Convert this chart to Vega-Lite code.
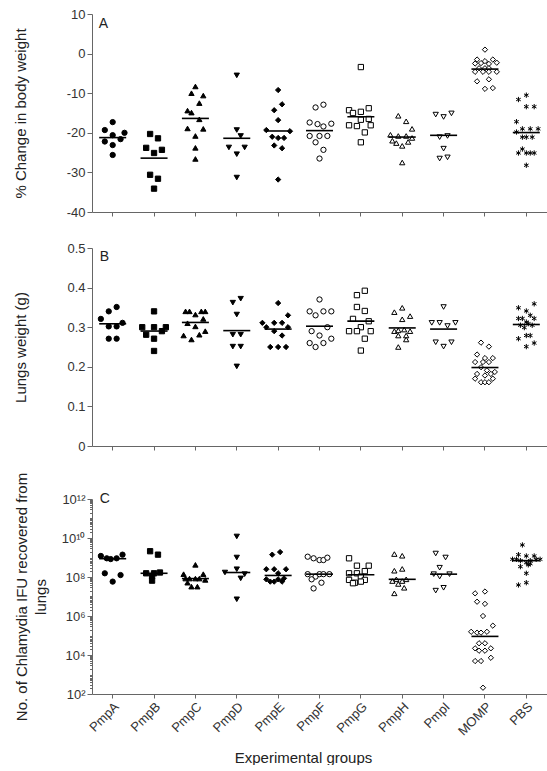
{
  "$schema": "https://vega.github.io/schema/vega-lite/v6.json",
  "padding": {"left": 12, "top": 8, "right": 0, "bottom": 0},
  "config": {
    "font": "Liberation Sans",
    "view": {"stroke": null},
    "axis": {"grid": false, "domainColor": "#666", "tickColor": "#666", "labelColor": "#333", "labelFontSize": 13, "titleFontSize": 15, "titleFontWeight": "normal", "titleColor": "#222", "labelOverlap": false, "labelFlush": false}
  },
  "datasets": {
    "dA": [
      {"g":"PmpA","v":-17.3,"j":0},{"g":"PmpA","v":-19.3,"j":-2},{"g":"PmpA","v":-20.0,"j":3},{"g":"PmpA","v":-20.6,"j":0},{"g":"PmpA","v":-21.6,"j":2},{"g":"PmpA","v":-22.2,"j":-2},{"g":"PmpA","v":-23.1,"j":0},{"g":"PmpA","v":-25.6,"j":0},
      {"g":"PmpB","v":-20.3,"j":-1},{"g":"PmpB","v":-21.4,"j":1},{"g":"PmpB","v":-23.8,"j":-2},{"g":"PmpB","v":-24.3,"j":2},{"g":"PmpB","v":-25.1,"j":0},{"g":"PmpB","v":-30.6,"j":-1},{"g":"PmpB","v":-31.6,"j":1},{"g":"PmpB","v":-34.1,"j":0},
      {"g":"PmpC","v":-8.3,"j":0},{"g":"PmpC","v":-10.0,"j":-1},{"g":"PmpC","v":-10.6,"j":2},{"g":"PmpC","v":-12.5,"j":1},{"g":"PmpC","v":-14.4,"j":-2},{"g":"PmpC","v":-14.9,"j":-1},{"g":"PmpC","v":-16.6,"j":1},{"g":"PmpC","v":-18.9,"j":-2},{"g":"PmpC","v":-19.0,"j":2},{"g":"PmpC","v":-20.8,"j":0},{"g":"PmpC","v":-23.8,"j":0},{"g":"PmpC","v":-26.6,"j":0},
      {"g":"PmpD","v":-5.5,"j":0},{"g":"PmpD","v":-19.3,"j":0},{"g":"PmpD","v":-20.8,"j":1},{"g":"PmpD","v":-23.7,"j":-2},{"g":"PmpD","v":-23.7,"j":2},{"g":"PmpD","v":-25.4,"j":0},{"g":"PmpD","v":-31.3,"j":0},
      {"g":"PmpE","v":-9.2,"j":0},{"g":"PmpE","v":-12.8,"j":1},{"g":"PmpE","v":-14.3,"j":-1},{"g":"PmpE","v":-16.8,"j":0},{"g":"PmpE","v":-19.3,"j":-3},{"g":"PmpE","v":-19.6,"j":3},{"g":"PmpE","v":-21.0,"j":-1.5},{"g":"PmpE","v":-21.3,"j":0},{"g":"PmpE","v":-21.3,"j":1.5},{"g":"PmpE","v":-23.2,"j":-1},{"g":"PmpE","v":-23.9,"j":1},{"g":"PmpE","v":-31.8,"j":0},
      {"g":"PmpF","v":-13.6,"j":-1},{"g":"PmpF","v":-12.9,"j":1},{"g":"PmpF","v":-17.4,"j":-2.5},{"g":"PmpF","v":-17.8,"j":-0.5},{"g":"PmpF","v":-18.4,"j":1},{"g":"PmpF","v":-17.7,"j":3},{"g":"PmpF","v":-20.8,"j":-2.5},{"g":"PmpF","v":-20.8,"j":0},{"g":"PmpF","v":-20.8,"j":2},{"g":"PmpF","v":-22.4,"j":-1},{"g":"PmpF","v":-24.3,"j":1},{"g":"PmpF","v":-26.5,"j":0},
      {"g":"PmpG","v":-3.4,"j":0},{"g":"PmpG","v":-13.8,"j":2},{"g":"PmpG","v":-14.3,"j":-3},{"g":"PmpG","v":-14.7,"j":0},{"g":"PmpG","v":-15.0,"j":-2},{"g":"PmpG","v":-16.5,"j":2},{"g":"PmpG","v":-16.7,"j":0},{"g":"PmpG","v":-18.1,"j":-3},{"g":"PmpG","v":-18.3,"j":-1},{"g":"PmpG","v":-18.1,"j":2.5},{"g":"PmpG","v":-19.9,"j":1},{"g":"PmpG","v":-22.4,"j":0},
      {"g":"PmpH","v":-15.7,"j":-1},{"g":"PmpH","v":-17.1,"j":1},{"g":"PmpH","v":-19.0,"j":2.5},{"g":"PmpH","v":-20.5,"j":-3},{"g":"PmpH","v":-20.8,"j":-1},{"g":"PmpH","v":-20.8,"j":1},{"g":"PmpH","v":-21.3,"j":2.5},{"g":"PmpH","v":-22.0,"j":-2.5},{"g":"PmpH","v":-22.3,"j":1.5},{"g":"PmpH","v":-22.6,"j":-1.5},{"g":"PmpH","v":-23.3,"j":0},{"g":"PmpH","v":-27.5,"j":0},
      {"g":"PmpI","v":-15.1,"j":2},{"g":"PmpI","v":-15.4,"j":-2},{"g":"PmpI","v":-16.0,"j":0},{"g":"PmpI","v":-20.8,"j":1},{"g":"PmpI","v":-21.1,"j":-1},{"g":"PmpI","v":-24.0,"j":0},{"g":"PmpI","v":-26.2,"j":1},{"g":"PmpI","v":-26.5,"j":-1},
      {"g":"MOMP","v":1.0,"j":0},{"g":"MOMP","v":-1.5,"j":-2},{"g":"MOMP","v":-1.5,"j":2},{"g":"MOMP","v":-1.9,"j":0},{"g":"MOMP","v":-2.5,"j":-2.5},{"g":"MOMP","v":-2.4,"j":-1},{"g":"MOMP","v":-2.6,"j":1},{"g":"MOMP","v":-2.3,"j":3},{"g":"MOMP","v":-3.7,"j":-1.5},{"g":"MOMP","v":-3.7,"j":0},{"g":"MOMP","v":-3.7,"j":1},{"g":"MOMP","v":-4.6,"j":-2.5},{"g":"MOMP","v":-4.6,"j":-0.5},{"g":"MOMP","v":-4.6,"j":1},{"g":"MOMP","v":-4.6,"j":3},{"g":"MOMP","v":-7.0,"j":-2},{"g":"MOMP","v":-6.5,"j":1},{"g":"MOMP","v":-8.9,"j":0},{"g":"MOMP","v":-8.7,"j":2},
      {"g":"PBS","v":-10.5,"j":0},{"g":"PBS","v":-11.6,"j":-2},{"g":"PBS","v":-13.4,"j":0},{"g":"PBS","v":-13.4,"j":2},{"g":"PBS","v":-17.2,"j":-2.5},{"g":"PBS","v":-19.0,"j":-1},{"g":"PBS","v":-19.0,"j":1},{"g":"PBS","v":-19.0,"j":3},{"g":"PBS","v":-19.8,"j":-2.5},{"g":"PBS","v":-21.1,"j":-1},{"g":"PBS","v":-21.1,"j":0},{"g":"PBS","v":-21.1,"j":1.5},{"g":"PBS","v":-24.1,"j":-1},{"g":"PBS","v":-25.1,"j":-2},{"g":"PBS","v":-25.1,"j":0},{"g":"PBS","v":-25.1,"j":1},{"g":"PBS","v":-25.1,"j":2},{"g":"PBS","v":-28.2,"j":0}
    ],
    "dB": [
      {"g":"PmpA","v":0.351,"j":1},{"g":"PmpA","v":0.340,"j":-1},{"g":"PmpA","v":0.321,"j":-3},{"g":"PmpA","v":0.311,"j":2.5},{"g":"PmpA","v":0.302,"j":-1},{"g":"PmpA","v":0.302,"j":1},{"g":"PmpA","v":0.271,"j":-1},{"g":"PmpA","v":0.271,"j":1},
      {"g":"PmpB","v":0.340,"j":0},{"g":"PmpB","v":0.300,"j":-3},{"g":"PmpB","v":0.300,"j":0},{"g":"PmpB","v":0.300,"j":3},{"g":"PmpB","v":0.290,"j":2},{"g":"PmpB","v":0.281,"j":-2},{"g":"PmpB","v":0.271,"j":0},{"g":"PmpB","v":0.240,"j":0},
      {"g":"PmpC","v":0.340,"j":-2.5},{"g":"PmpC","v":0.340,"j":-1.5},{"g":"PmpC","v":0.340,"j":1.5},{"g":"PmpC","v":0.340,"j":2.5},{"g":"PmpC","v":0.332,"j":0},{"g":"PmpC","v":0.321,"j":2},{"g":"PmpC","v":0.310,"j":-2},{"g":"PmpC","v":0.302,"j":0},{"g":"PmpC","v":0.290,"j":2.5},{"g":"PmpC","v":0.279,"j":-3},{"g":"PmpC","v":0.281,"j":1},{"g":"PmpC","v":0.269,"j":-1},
      {"g":"PmpD","v":0.372,"j":1},{"g":"PmpD","v":0.362,"j":-1},{"g":"PmpD","v":0.332,"j":0},{"g":"PmpD","v":0.281,"j":-1},{"g":"PmpD","v":0.281,"j":1},{"g":"PmpD","v":0.251,"j":-1},{"g":"PmpD","v":0.251,"j":1},{"g":"PmpD","v":0.201,"j":0},
      {"g":"PmpE","v":0.361,"j":0},{"g":"PmpE","v":0.330,"j":2.5},{"g":"PmpE","v":0.311,"j":-4},{"g":"PmpE","v":0.311,"j":-1},{"g":"PmpE","v":0.311,"j":1},{"g":"PmpE","v":0.300,"j":-3},{"g":"PmpE","v":0.300,"j":2.5},{"g":"PmpE","v":0.290,"j":-1},{"g":"PmpE","v":0.279,"j":1},{"g":"PmpE","v":0.250,"j":-2},{"g":"PmpE","v":0.250,"j":0},{"g":"PmpE","v":0.250,"j":2},
      {"g":"PmpF","v":0.370,"j":0},{"g":"PmpF","v":0.340,"j":-2.5},{"g":"PmpF","v":0.340,"j":1},{"g":"PmpF","v":0.340,"j":3},{"g":"PmpF","v":0.330,"j":-1},{"g":"PmpF","v":0.300,"j":2},{"g":"PmpF","v":0.290,"j":-2},{"g":"PmpF","v":0.279,"j":0},{"g":"PmpF","v":0.271,"j":3},{"g":"PmpF","v":0.260,"j":-2.5},{"g":"PmpF","v":0.260,"j":1},{"g":"PmpF","v":0.250,"j":-1},
      {"g":"PmpG","v":0.392,"j":1},{"g":"PmpG","v":0.381,"j":-1},{"g":"PmpG","v":0.351,"j":-1},{"g":"PmpG","v":0.341,"j":1},{"g":"PmpG","v":0.321,"j":-2},{"g":"PmpG","v":0.315,"j":2},{"g":"PmpG","v":0.300,"j":0},{"g":"PmpG","v":0.290,"j":-3},{"g":"PmpG","v":0.290,"j":-1},{"g":"PmpG","v":0.290,"j":2.5},{"g":"PmpG","v":0.271,"j":1},{"g":"PmpG","v":0.241,"j":0},
      {"g":"PmpH","v":0.349,"j":0},{"g":"PmpH","v":0.338,"j":-2},{"g":"PmpH","v":0.328,"j":2},{"g":"PmpH","v":0.320,"j":0},{"g":"PmpH","v":0.294,"j":0.5},{"g":"PmpH","v":0.290,"j":-2},{"g":"PmpH","v":0.290,"j":2},{"g":"PmpH","v":0.292,"j":-1},{"g":"PmpH","v":0.279,"j":-1},{"g":"PmpH","v":0.279,"j":1},{"g":"PmpH","v":0.269,"j":1},{"g":"PmpH","v":0.250,"j":-1},
      {"g":"PmpI","v":0.351,"j":0},{"g":"PmpI","v":0.311,"j":-3},{"g":"PmpI","v":0.311,"j":-1},{"g":"PmpI","v":0.311,"j":3},{"g":"PmpI","v":0.303,"j":1},{"g":"PmpI","v":0.262,"j":-2},{"g":"PmpI","v":0.262,"j":2},{"g":"PmpI","v":0.251,"j":0},
      {"g":"MOMP","v":0.261,"j":-1},{"g":"MOMP","v":0.251,"j":1},{"g":"MOMP","v":0.231,"j":-2},{"g":"MOMP","v":0.222,"j":0},{"g":"MOMP","v":0.222,"j":2},{"g":"MOMP","v":0.212,"j":-2.5},{"g":"MOMP","v":0.212,"j":-0.5},{"g":"MOMP","v":0.212,"j":1},{"g":"MOMP","v":0.199,"j":-1},{"g":"MOMP","v":0.191,"j":0.5},{"g":"MOMP","v":0.187,"j":2.5},{"g":"MOMP","v":0.182,"j":-2},{"g":"MOMP","v":0.182,"j":1.5},{"g":"MOMP","v":0.178,"j":0},{"g":"MOMP","v":0.170,"j":-2.5},{"g":"MOMP","v":0.170,"j":2},{"g":"MOMP","v":0.161,"j":-1},{"g":"MOMP","v":0.161,"j":0},{"g":"MOMP","v":0.161,"j":1},
      {"g":"PBS","v":0.359,"j":2},{"g":"PBS","v":0.349,"j":-2},{"g":"PBS","v":0.341,"j":0},{"g":"PBS","v":0.330,"j":1},{"g":"PBS","v":0.322,"j":-2},{"g":"PBS","v":0.322,"j":-1},{"g":"PBS","v":0.322,"j":2},{"g":"PBS","v":0.313,"j":0},{"g":"PBS","v":0.309,"j":0.5},{"g":"PBS","v":0.305,"j":-1.5},{"g":"PBS","v":0.305,"j":1.5},{"g":"PBS","v":0.299,"j":-0.5},{"g":"PBS","v":0.279,"j":0},{"g":"PBS","v":0.279,"j":1},{"g":"PBS","v":0.271,"j":-2},{"g":"PBS","v":0.260,"j":2},{"g":"PBS","v":0.251,"j":0}
    ],
    "dC": [
      {"g":"PmpA","v":1.2e9,"j":-3},{"g":"PmpA","v":9.1e8,"j":-1.5},{"g":"PmpA","v":8.3e8,"j":-0.5},{"g":"PmpA","v":9.1e8,"j":1},{"g":"PmpA","v":1.4e9,"j":2.5},{"g":"PmpA","v":1.55e8,"j":-2},{"g":"PmpA","v":1.26e8,"j":2},{"g":"PmpA","v":5.8e7,"j":0},
      {"g":"PmpB","v":2.1e9,"j":-1},{"g":"PmpB","v":1.4e9,"j":1},{"g":"PmpB","v":1.55e8,"j":-2},{"g":"PmpB","v":1.55e8,"j":0},{"g":"PmpB","v":1.7e8,"j":1.5},{"g":"PmpB","v":1.1e8,"j":-0.5},{"g":"PmpB","v":6.5e7,"j":-0.5},
      {"g":"PmpC","v":4.2e8,"j":0},{"g":"PmpC","v":1.4e8,"j":-3},{"g":"PmpC","v":1.4e8,"j":2},{"g":"PmpC","v":8.3e7,"j":-2.5},{"g":"PmpC","v":8.3e7,"j":-1.5},{"g":"PmpC","v":8.3e7,"j":0},{"g":"PmpC","v":8.3e7,"j":1},{"g":"PmpC","v":7.1e7,"j":2.5},{"g":"PmpC","v":5.1e7,"j":-2},{"g":"PmpC","v":3.2e7,"j":-1},{"g":"PmpC","v":3.2e7,"j":0.5},
      {"g":"PmpD","v":1.2e10,"j":0},{"g":"PmpD","v":1.0e9,"j":0},{"g":"PmpD","v":2.5e8,"j":0},{"g":"PmpD","v":1.7e8,"j":-3},{"g":"PmpD","v":1.4e8,"j":2},{"g":"PmpD","v":8.5e7,"j":1},{"g":"PmpD","v":7.2e6,"j":0},
      {"g":"PmpE","v":1.4e9,"j":-1.5},{"g":"PmpE","v":1.9e9,"j":0.5},{"g":"PmpE","v":2.5e8,"j":-3},{"g":"PmpE","v":2.5e8,"j":-1},{"g":"PmpE","v":2.5e8,"j":2},{"g":"PmpE","v":1.55e8,"j":0},{"g":"PmpE","v":8.5e7,"j":1.5},{"g":"PmpE","v":7.6e7,"j":-3},{"g":"PmpE","v":7.6e7,"j":0},{"g":"PmpE","v":5.8e7,"j":-2},{"g":"PmpE","v":5.8e7,"j":-1},{"g":"PmpE","v":5.8e7,"j":1},
      {"g":"PmpF","v":1.1e9,"j":-3},{"g":"PmpF","v":9.1e8,"j":-1.5},{"g":"PmpF","v":7.4e8,"j":0},{"g":"PmpF","v":7.4e8,"j":1},{"g":"PmpF","v":9.8e8,"j":2},{"g":"PmpF","v":1.4e8,"j":-3},{"g":"PmpF","v":1.05e8,"j":-1},{"g":"PmpF","v":1.4e8,"j":0},{"g":"PmpF","v":1.4e8,"j":1},{"g":"PmpF","v":1.4e8,"j":2.5},{"g":"PmpF","v":7.6e7,"j":-2},{"g":"PmpF","v":5.1e7,"j":0.5},{"g":"PmpF","v":2.6e7,"j":-1.5},
      {"g":"PmpG","v":9.1e8,"j":-3},{"g":"PmpG","v":3.8e8,"j":-1},{"g":"PmpG","v":3.8e8,"j":2},{"g":"PmpG","v":2.0e8,"j":1},{"g":"PmpG","v":1.55e8,"j":-3},{"g":"PmpG","v":1.55e8,"j":-1},{"g":"PmpG","v":1.05e8,"j":0},{"g":"PmpG","v":7.1e7,"j":-3},{"g":"PmpG","v":7.1e7,"j":1},{"g":"PmpG","v":5.8e7,"j":0},{"g":"PmpG","v":5.1e7,"j":-1.5},{"g":"PmpG","v":4.8e7,"j":-2},
      {"g":"PmpH","v":1.5e9,"j":-2},{"g":"PmpH","v":1.23e9,"j":0},{"g":"PmpH","v":2.6e8,"j":0},{"g":"PmpH","v":2.1e8,"j":-2},{"g":"PmpH","v":7.6e7,"j":-1.5},{"g":"PmpH","v":7.6e7,"j":1},{"g":"PmpH","v":6.2e7,"j":-2.5},{"g":"PmpH","v":6.2e7,"j":0},{"g":"PmpH","v":4.4e7,"j":-1},{"g":"PmpH","v":2.8e7,"j":0.5},{"g":"PmpH","v":1.45e7,"j":-2},
      {"g":"PmpI","v":1.6e9,"j":-2},{"g":"PmpI","v":1.0e9,"j":0.5},{"g":"PmpI","v":3.0e8,"j":-1},{"g":"PmpI","v":1.4e8,"j":-2.5},{"g":"PmpI","v":1.4e8,"j":1.5},{"g":"PmpI","v":1.05e8,"j":-1},{"g":"PmpI","v":2.8e7,"j":0},{"g":"PmpI","v":2.0e7,"j":-2},
      {"g":"MOMP","v":1.45e7,"j":-2.5},{"g":"MOMP","v":1.8e7,"j":0},{"g":"MOMP","v":5.4e6,"j":-2},{"g":"MOMP","v":4.2e6,"j":0},{"g":"MOMP","v":1.0e6,"j":-0.5},{"g":"MOMP","v":3.2e5,"j":2},{"g":"MOMP","v":1.55e5,"j":-3.5},{"g":"MOMP","v":1.4e5,"j":-2},{"g":"MOMP","v":1.4e5,"j":-1},{"g":"MOMP","v":1.55e5,"j":0.5},{"g":"MOMP","v":4.0e4,"j":-1.5},{"g":"MOMP","v":4.0e4,"j":0},{"g":"MOMP","v":2.2e4,"j":-2.5},{"g":"MOMP","v":1.66e4,"j":-1.5},{"g":"MOMP","v":1.66e4,"j":0},{"g":"MOMP","v":2.2e4,"j":1.5},{"g":"MOMP","v":7.2e3,"j":1.5},{"g":"MOMP","v":4.9e3,"j":-2.5},{"g":"MOMP","v":4.9e3,"j":-1},{"g":"MOMP","v":2.1e2,"j":-0.5},
      {"g":"PBS","v":4.4e9,"j":-1},{"g":"PBS","v":1.4e9,"j":-2},{"g":"PBS","v":1.2e9,"j":0},{"g":"PBS","v":1.2e9,"j":2},{"g":"PBS","v":8.1e8,"j":-3.5},{"g":"PBS","v":8.1e8,"j":-2.5},{"g":"PBS","v":8.1e8,"j":2.5},{"g":"PBS","v":8.1e8,"j":3.5},{"g":"PBS","v":6.9e8,"j":-1.5},{"g":"PBS","v":6.9e8,"j":1},{"g":"PBS","v":5.4e8,"j":0},{"g":"PBS","v":4.8e8,"j":1},{"g":"PBS","v":3.4e8,"j":-1.5},{"g":"PBS","v":4.2e8,"j":0.5},{"g":"PBS","v":1.55e8,"j":0},{"g":"PBS","v":5.1e7,"j":0},{"g":"PBS","v":3.9e7,"j":-2}
    ]
  },
  "spacing": 19,
  "vconcat": [
    {
      "spacing": 23,
      "vconcat": [
        {
          "width": 455, "height": 198,
          "data": {"name": "dA"},
          "layer": [
            {
              "mark": {"type": "point", "filled": true, "stroke": "black", "strokeWidth": 1, "opacity": 1, "size": 28},
              "encoding": {
                "x": {"field": "g", "type": "nominal", "title": null, "scale": {"domain": ["PmpA","PmpB","PmpC","PmpD","PmpE","PmpF","PmpG","PmpH","PmpI","MOMP","PBS"], "paddingInner": 0, "paddingOuter": 0}, "axis": {"labels": false, "tickSize": 4}},
                "xOffset": {"field": "j", "type": "quantitative", "scale": {"domain": [-5.25, 5.25]}},
                "y": {"field": "v", "type": "quantitative", "title": "% Change in body weight", "scale": {"domain": [-40, 10], "nice": false, "zero": false}, "axis": {"values": [-40,-30,-20,-10,0,10], "labelExpr": "'' + datum.value", "titleX": -64, "tickSize": 5}},
                "shape": {"field": "g", "type": "nominal", "scale": {"domain": ["PmpA","PmpB","PmpC","PmpD","PmpE","PmpF","PmpG","PmpH","PmpI","MOMP","PBS"], "range": ["circle","square","triangle-up","triangle-down","diamond","circle","square","triangle-up","triangle-down","diamond","M0,-1L0,1M-0.87,-0.5L0.87,0.5M-0.87,0.5L0.87,-0.5"]}, "legend": null},
                "fill": {"field": "g", "type": "nominal", "scale": {"domain": ["PmpA","PmpB","PmpC","PmpD","PmpE","PmpF","PmpG","PmpH","PmpI","MOMP","PBS"], "range": ["black","black","black","black","black","white","white","white","white","white","black"]}, "legend": null}
              }
            },
            {
              "mark": {"type": "tick", "color": "black", "thickness": 1.6, "size": 27},
              "encoding": {
                "x": {"field": "g", "type": "nominal", "title": null, "axis": {"labels": false, "tickSize": 4}},
                "y": {"aggregate": "mean", "field": "v", "type": "quantitative", "title": "% Change in body weight", "axis": {"values": [-40,-30,-20,-10,0,10], "labelExpr": "'' + datum.value", "titleX": -64, "tickSize": 5}}
              }
            },
            {
              "data": {"values": [{"label": "A"}]},
              "mark": {"type": "text", "align": "left", "baseline": "top", "dx": -14, "dy": 3, "fontSize": 14, "color": "#222"},
              "encoding": {
                "x": {"datum": "PmpA", "type": "nominal", "title": null, "axis": {"labels": false, "tickSize": 4}},
                "y": {"datum": 10, "type": "quantitative", "title": "% Change in body weight", "axis": {"values": [-40,-30,-20,-10,0,10], "labelExpr": "'' + datum.value", "titleX": -64, "tickSize": 5}},
                "text": {"field": "label"}
              }
            }
          ]
        },
        {
          "width": 455, "height": 198,
          "data": {"name": "dB"},
          "layer": [
            {
              "mark": {"type": "point", "filled": true, "stroke": "black", "strokeWidth": 1, "opacity": 1, "size": 28},
              "encoding": {
                "x": {"field": "g", "type": "nominal", "title": null, "scale": {"domain": ["PmpA","PmpB","PmpC","PmpD","PmpE","PmpF","PmpG","PmpH","PmpI","MOMP","PBS"], "paddingInner": 0, "paddingOuter": 0}, "axis": {"labels": false, "tickSize": 4}},
                "xOffset": {"field": "j", "type": "quantitative", "scale": {"domain": [-5.25, 5.25]}},
                "y": {"field": "v", "type": "quantitative", "title": "Lungs weight (g)", "scale": {"domain": [0, 0.5], "nice": false}, "axis": {"values": [0,0.1,0.2,0.3,0.4,0.5], "labelExpr": "'' + datum.value", "titleX": -64, "tickSize": 5}},
                "shape": {"field": "g", "type": "nominal", "scale": {"domain": ["PmpA","PmpB","PmpC","PmpD","PmpE","PmpF","PmpG","PmpH","PmpI","MOMP","PBS"], "range": ["circle","square","triangle-up","triangle-down","diamond","circle","square","triangle-up","triangle-down","diamond","M0,-1L0,1M-0.87,-0.5L0.87,0.5M-0.87,0.5L0.87,-0.5"]}, "legend": null},
                "fill": {"field": "g", "type": "nominal", "scale": {"domain": ["PmpA","PmpB","PmpC","PmpD","PmpE","PmpF","PmpG","PmpH","PmpI","MOMP","PBS"], "range": ["black","black","black","black","black","white","white","white","white","white","black"]}, "legend": null}
              }
            },
            {
              "mark": {"type": "tick", "color": "black", "thickness": 1.6, "size": 27},
              "encoding": {
                "x": {"field": "g", "type": "nominal", "title": null, "axis": {"labels": false, "tickSize": 4}},
                "y": {"aggregate": "mean", "field": "v", "type": "quantitative", "title": "Lungs weight (g)", "axis": {"values": [0,0.1,0.2,0.3,0.4,0.5], "labelExpr": "'' + datum.value", "titleX": -64, "tickSize": 5}}
              }
            },
            {
              "data": {"values": [{"label": "B"}]},
              "mark": {"type": "text", "align": "left", "baseline": "top", "dx": -13, "dy": 2, "fontSize": 14, "color": "#222"},
              "encoding": {
                "x": {"datum": "PmpA", "type": "nominal", "title": null, "axis": {"labels": false, "tickSize": 4}},
                "y": {"datum": 0.5, "type": "quantitative", "title": "Lungs weight (g)", "axis": {"values": [0,0.1,0.2,0.3,0.4,0.5], "labelExpr": "'' + datum.value", "titleX": -64, "tickSize": 5}},
                "text": {"field": "label"}
              }
            }
          ]
        }
      ]
    },
    {
      "width": 455, "height": 195,
      "data": {"name": "dC"},
      "layer": [
        {
          "mark": {"type": "point", "filled": true, "stroke": "black", "strokeWidth": 1, "opacity": 1, "size": 28},
          "encoding": {
            "x": {"field": "g", "type": "nominal", "title": "Experimental groups", "scale": {"domain": ["PmpA","PmpB","PmpC","PmpD","PmpE","PmpF","PmpG","PmpH","PmpI","MOMP","PBS"], "paddingInner": 0, "paddingOuter": 0}, "axis": {"labelAngle": -45, "tickSize": 4, "titleX": 211, "titleY": 68, "titleBaseline": "alphabetic", "titleFontSize": 15}},
            "xOffset": {"field": "j", "type": "quantitative", "scale": {"domain": [-5.25, 5.25]}},
            "y": {"field": "v", "type": "quantitative", "title": ["No. of Chlamydia IFU recovered from", "lungs"], "scale": {"type": "log", "domain": [1e2, 1e12], "nice": false}, "axis": {
              "values": [1e2,2e2,3e2,4e2,5e2,6e2,7e2,8e2,9e2,1e3,2e3,3e3,4e3,5e3,6e3,7e3,8e3,9e3,1e4,2e4,3e4,4e4,5e4,6e4,7e4,8e4,9e4,1e5,2e5,3e5,4e5,5e5,6e5,7e5,8e5,9e5,1e6,2e6,3e6,4e6,5e6,6e6,7e6,8e6,9e6,1e7,2e7,3e7,4e7,5e7,6e7,7e7,8e7,9e7,1e8,2e8,3e8,4e8,5e8,6e8,7e8,8e8,9e8,1e9,2e9,3e9,4e9,5e9,6e9,7e9,8e9,9e9,1e10,2e10,3e10,4e10,5e10,6e10,7e10,8e10,9e10,1e11,2e11,3e11,4e11,5e11,6e11,7e11,8e11,9e11,1e12],
              "labelExpr": "datum.value == 100 ? '10²' : datum.value == 10000 ? '10⁴' : datum.value == 1000000 ? '10⁶' : datum.value == 100000000 ? '10⁸' : datum.value == 10000000000 ? '10¹⁰' : datum.value == 1000000000000 ? '10¹²' : ''",
              "tickSize": {"condition": {"test": "datum.value == 100 || datum.value == 10000 || datum.value == 1000000 || datum.value == 100000000 || datum.value == 10000000000 || datum.value == 1000000000000", "value": 5}, "value": 2.5},
              "titleX": -63, "titleLineHeight": 19}},
            "shape": {"field": "g", "type": "nominal", "scale": {"domain": ["PmpA","PmpB","PmpC","PmpD","PmpE","PmpF","PmpG","PmpH","PmpI","MOMP","PBS"], "range": ["circle","square","triangle-up","triangle-down","diamond","circle","square","triangle-up","triangle-down","diamond","M0,-1L0,1M-0.87,-0.5L0.87,0.5M-0.87,0.5L0.87,-0.5"]}, "legend": null},
            "fill": {"field": "g", "type": "nominal", "scale": {"domain": ["PmpA","PmpB","PmpC","PmpD","PmpE","PmpF","PmpG","PmpH","PmpI","MOMP","PBS"], "range": ["black","black","black","black","black","white","white","white","white","white","black"]}, "legend": null}
          }
        },
        {
          "mark": {"type": "tick", "color": "black", "thickness": 1.6, "size": 27},
          "encoding": {
            "x": {"field": "g", "type": "nominal", "title": "Experimental groups"},
            "y": {"aggregate": "median", "field": "v", "type": "quantitative", "title": ["No. of Chlamydia IFU recovered from", "lungs"]}
          }
        },
        {
          "data": {"values": [{"label": "C"}]},
          "mark": {"type": "text", "align": "left", "baseline": "middle", "dx": -13, "dy": 0, "fontSize": 14, "color": "#222"},
          "encoding": {
            "x": {"datum": "PmpA", "type": "nominal", "title": "Experimental groups"},
            "y": {"datum": 1e12, "type": "quantitative", "title": ["No. of Chlamydia IFU recovered from", "lungs"]},
            "text": {"field": "label"}
          }
        }
      ]
    }
  ]
}
